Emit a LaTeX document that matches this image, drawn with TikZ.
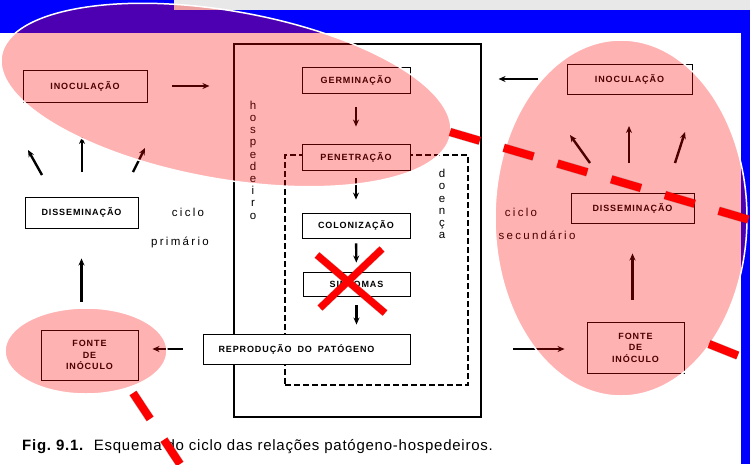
\documentclass[tikz,border=0pt]{standalone}
\usepackage{fontspec}
\setmainfont{Liberation Sans}
\usepackage{tikz}
\usetikzlibrary{arrows.meta}
\usetikzlibrary{shapes}

\definecolor{azul}{RGB}{0,0,255}
\definecolor{cinza}{RGB}{232,232,232}

\tikzset{
  caixa/.style={draw=black, line width=0.9pt, fill=white, inner sep=0pt, align=center,
    font=\fontsize{9}{11.5}\selectfont\bfseries\addfontfeatures{LetterSpace=10}},
  seta/.style={line width=2.4pt, -{Stealth[length=7pt,width=6pt]}},
  rotulo/.style={inner sep=0pt, font=\fontsize{11.5}{12}\selectfont\addfontfeatures{LetterSpace=20}},
  vertical/.style={inner sep=0pt, align=center, font=\fontsize{11.5}{12.2}\selectfont},
  mancha/.style={fill=red, fill opacity=0.3, draw=white, line width=1.5pt},
  risco/.style={draw=red, line width=8pt, dash pattern=on 31pt off 25pt},
  sombra/.style={draw=black, opacity=0.2, line width=9pt, dash pattern=on 31pt off 25pt}
}

\begin{document}
\begin{tikzpicture}[x=1pt, y=-1pt]
\useasboundingbox (0,0) rectangle (750,464);
\fill[white] (0,0) rectangle (750,464);
\fill[azul] (0,0) rectangle (750,33);
\fill[cinza] (174,0) rectangle (750,10);
\fill[azul] (741,10) rectangle (750,464);

\node (hosp) [draw=black, line width=1.1pt, minimum width=247pt, minimum height=373pt] at (357.5,230.5) {};
\node (doenca) [draw=black, line width=1.3pt, dash pattern=on 6pt off 3pt, minimum width=183pt, minimum height=230pt] at (376.5,270) {};

\node (inocE) [caixa, minimum width=124pt, minimum height=32pt] at (85,86) {INOCULAÇÃO};
\node (dissE) [caixa, minimum width=113pt, minimum height=31pt] at (81.5,212.5) {DISSEMINAÇÃO};
\node (fonteE) [caixa, minimum width=97pt, minimum height=50pt] at (89.5,355) {FONTE\\DE\\INÓCULO};

\node (germ) [caixa, minimum width=108pt, minimum height=26pt] at (356,80) {GERMINAÇÃO};
\node (pen) [caixa, minimum width=108pt, minimum height=26pt] at (356,157) {PENETRAÇÃO};
\node (colon) [caixa, minimum width=108pt, minimum height=25pt] at (356,225.5) {COLONIZAÇÃO};
\node (sint) [caixa, minimum width=107pt, minimum height=24pt] at (356.5,284) {SINTOMAS};
\node (repro) [caixa, minimum width=207pt, minimum height=30pt, text width=176pt, align=left] at (306.5,349) {REPRODUÇÃO\ \ DO\ \ PATÓGENO};

\node (inocD) [caixa, minimum width=125pt, minimum height=30pt] at (629.5,79) {INOCULAÇÃO};
\node (dissD) [caixa, minimum width=123pt, minimum height=30pt] at (632.5,208) {DISSEMINAÇÃO};
\node (fonteD) [caixa, minimum width=97pt, minimum height=51pt] at (635.5,347.5) {FONTE\\DE\\INÓCULO};

\node (hospTxt) [vertical] at (253,160) {h\\o\\s\\p\\e\\d\\e\\i\\r\\o};
\node (doencaTxt) [vertical] at (442,204) {d\\o\\e\\n\\ç\\a};
\node (cicloE) [rotulo] at (188,212) {ciclo};
\node (primE) [rotulo] at (180,242) {primário};
\node (cicloD) [rotulo] at (521,212) {ciclo};
\node (secD) [rotulo] at (537,235) {secundário};

\draw[seta, shorten <=25pt, shorten >=24pt] (inocE.east) -- (inocE.east -| hosp.west);
\draw[seta, shorten <=29pt, shorten >=17pt] (inocD.west) -- (inocD.west -| hosp.east);
\draw[seta, shorten <=14pt, shorten >=17pt] (germ) -- (pen);
\draw[seta, shorten <=8pt, shorten >=13pt] (pen) -- (colon);
\draw[seta, shorten <=5pt, shorten >=9pt] (colon) -- (sint);
\draw[seta, shorten <=9pt, shorten >=9pt] (sint.south) -- (sint.south |- repro.north);
\draw[seta, shorten <=20pt, shorten >=14pt] (repro.west) -- (repro.west -| fonteE.east);
\draw[seta, shorten <=103pt, shorten >=22pt] (repro.east) -- (repro.east -| fonteD.west);
\draw[seta, shorten <=28pt, shorten >=30pt] (fonteE.north -| dissE.south) -- (dissE.south);
\draw[seta, shorten <=22pt, shorten >=30pt] (fonteD.north -| dissD.south) -- (dissD.south);

\foreach \x/\y/\u/\v [count=\i] in {42/175/28/150, 82/172/82/137, 133/172/145/148}{
  \coordinate (eb\i) at (\x,\y);
  \coordinate (et\i) at (\u,\v);
  \draw[seta] (eb\i) -- (et\i);
}
\foreach \x/\y/\u/\v [count=\i] in {590/163/570/135, 629/163/629/126, 675/163/685/132}{
  \coordinate (db\i) at (\x,\y);
  \coordinate (dt\i) at (\u,\v);
  \draw[seta] (db\i) -- (dt\i);
}

\node (leg) [anchor=base west, inner sep=0pt, font=\fontsize{15}{15}\selectfont\addfontfeatures{LetterSpace=5}] at (22,450) {\textbf{Fig.\ 9.1.}\ \ Esquema do ciclo das relações patógeno-hospedeiros.};

\draw[mancha, rotate around={-10:(226,95)}] (226,95) ellipse [x radius=228pt, y radius=84pt];
\draw[mancha] (621,218) ellipse [x radius=126pt, y radius=178pt];
\draw[mancha] (86,351) ellipse [x radius=81pt, y radius=43pt];

\coordinate (r1a) at (450,132);
\coordinate (r1b) at (750,220);
\coordinate (r2a) at (709,344);
\coordinate (r2b) at (739,356);
\coordinate (r3a) at (133,393);
\coordinate (r3b) at (180,464);
\begin{scope}[shift={(-1,4)}]
\draw[sombra] (r1a) -- (r1b);
\draw[sombra] (r2a) -- (r2b);
\draw[sombra] (r3a) -- (r3b);
\end{scope}
\draw[risco] (r1a) -- (r1b);
\draw[risco] (r2a) -- (r2b);
\draw[risco] (r3a) -- (r3b);

\coordinate (xa) at (317,255);
\coordinate (xb) at (385,313);
\coordinate (xc) at (382,249);
\coordinate (xd) at (320,308);
\draw[black, opacity=0.2, line width=8pt, shift={(-1,3)}] (xa) -- (xb) (xc) -- (xd);
\draw[red, line width=7pt] (xa) -- (xb) (xc) -- (xd);
\end{tikzpicture}
\end{document}
